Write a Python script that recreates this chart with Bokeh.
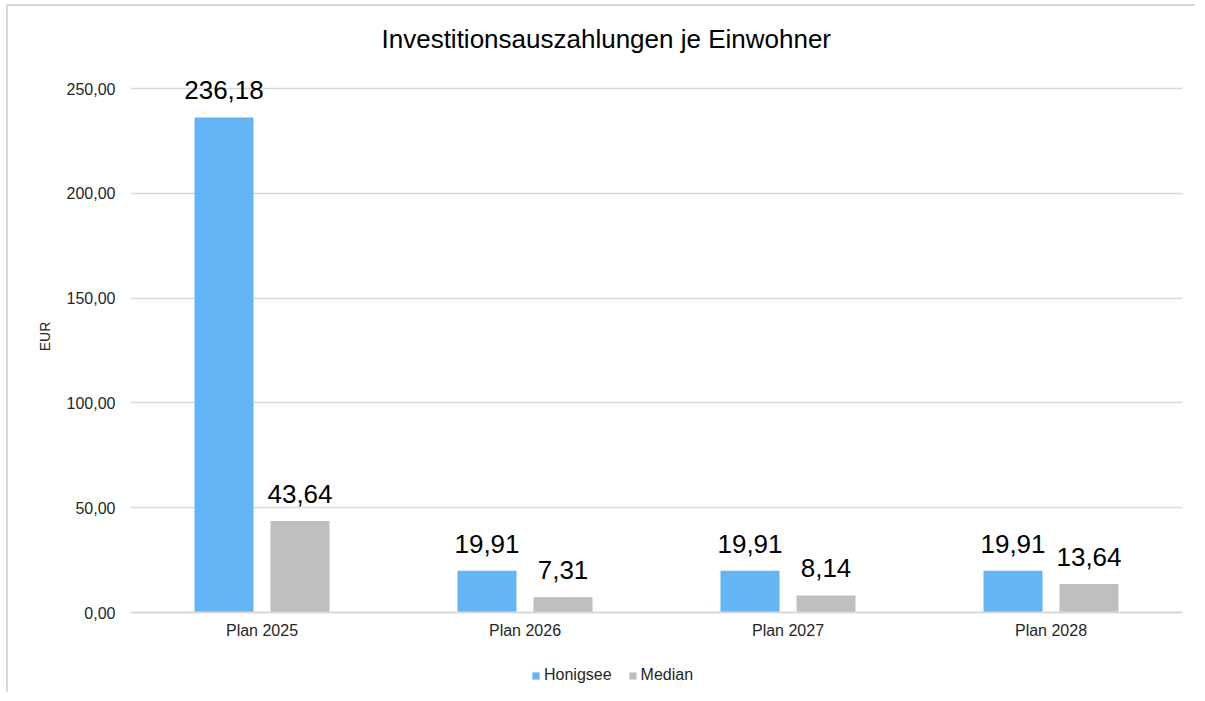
from bokeh.plotting import figure
from bokeh.layouts import column
from bokeh.models import ColumnDataSource, CustomJSTickFormatter, Legend, LegendItem, Title, Range1d
from bokeh.transform import dodge
from bokeh.core.properties import value
from bokeh.embed import file_html
from bokeh.resources import INLINE

categories = ["Plan 2025", "Plan 2026", "Plan 2027", "Plan 2028"]
honigsee = [236.18, 19.91, 19.91, 19.91]
median = [43.64, 7.31, 8.14, 13.64]
series_names = ["Honigsee", "Median"]
colors = ["#63B5F6", "#BFBFBF"]
y_ticks = [0, 50, 100, 150, 200, 250]

FONT = "Liberation Sans"
BORDER = "2px solid #d9d9d9"

def fmt(v):
    return f"{v:.2f}".replace(".", ",")

src = ColumnDataSource(dict(
    cat=categories,
    h=honigsee,
    m=median,
    hl=[fmt(v) for v in honigsee],
    ml=[fmt(v) for v in median],
))

# frame extends a bit above the 250 gridline so the top data label is not clipped
p = figure(x_range=categories, y_range=Range1d(0, 263.36), width=1189, height=646,
           output_backend="svg", toolbar_location=None,
           min_border_left=122, min_border_right=15, min_border_top=54, min_border_bottom=40)
p.styles = {"margin-left": "6px", "margin-top": "4px",
            "border-left": BORDER, "border-top": BORDER}
p.outline_line_color = None
p.background_fill_color = "white"
p.border_fill_color = "white"

p.title = Title(text="Investitionsauszahlungen je Einwohner", align="left",
                text_font=FONT, text_font_size="26px", text_font_style="normal",
                text_color="#000000", offset=251, standoff=13)

off = 0.1445
bw = 0.2243
r1 = p.vbar(x=dodge("cat", -off, range=p.x_range), top="h", width=bw, source=src,
            fill_color=colors[0], line_color=None)
r2 = p.vbar(x=dodge("cat", off, range=p.x_range), top="m", width=bw, source=src,
            fill_color=colors[1], line_color=None)

p.text(x=dodge("cat", -off, range=p.x_range), y="h", text="hl", source=src,
       text_align="center", text_baseline="alphabetic", y_offset=-27,
       text_font=value(FONT), text_font_size="26px", text_color="#000000")
p.text(x=dodge("cat", off, range=p.x_range), y="m", text="ml", source=src,
       text_align="center", text_baseline="alphabetic", y_offset=-27,
       text_font=value(FONT), text_font_size="26px", text_color="#000000")

# axes
p.yaxis.ticker = y_ticks
p.yaxis.formatter = CustomJSTickFormatter(code="return tick.toFixed(2).replace('.', ',');")
p.yaxis.axis_line_color = None
p.yaxis.major_tick_line_color = None
p.yaxis.minor_tick_line_color = None
p.yaxis.major_label_standoff = 9
p.yaxis.major_label_text_font = FONT
p.yaxis.major_label_text_font_size = "16px"
p.yaxis.major_label_text_color = "#262626"
p.yaxis.axis_label = "EUR"
p.yaxis.axis_label_text_font = FONT
p.yaxis.axis_label_text_font_size = "14px"
p.yaxis.axis_label_text_font_style = "normal"
p.yaxis.axis_label_text_color = "#262626"
p.yaxis.axis_label_standoff = 11

p.xaxis.axis_line_color = "#d9d9d9"
p.xaxis.axis_line_width = 2
p.xaxis.major_tick_line_color = None
p.xaxis.minor_tick_line_color = None
p.xaxis.major_label_standoff = 3
p.xaxis.major_label_text_font = FONT
p.xaxis.major_label_text_font_size = "16px"
p.xaxis.major_label_text_color = "#262626"

p.xgrid.grid_line_color = None
p.ygrid.grid_line_color = "#d9d9d9"
p.ygrid.grid_line_width = 1.5

# legend strip below the chart
lp = figure(width=1189, height=42, x_range=Range1d(0, 1), y_range=Range1d(0, 1),
            output_backend="svg", toolbar_location=None,
            x_axis_type=None, y_axis_type=None,
            min_border_left=122, min_border_right=15, min_border_top=0, min_border_bottom=0)
lp.styles = {"margin-left": "6px", "border-left": BORDER}
lp.grid.visible = False
lp.outline_line_color = None
# zero-size legend proxies (only their colours are used by the legend)
lr1 = lp.vbar(x=[0.5], top=[0], bottom=[0], width=0, fill_color=colors[0], line_color=None)
lr2 = lp.vbar(x=[0.5], top=[0], bottom=[0], width=0, fill_color=colors[1], line_color=None)

legend = Legend(items=[LegendItem(label=series_names[0], renderers=[lr1]),
                       LegendItem(label=series_names[1], renderers=[lr2])],
                orientation="horizontal", location=(401, 8),
                glyph_width=9, glyph_height=9, label_standoff=4, spacing=16,
                padding=0, margin=0, border_line_color=None, background_fill_alpha=0,
                label_text_font=FONT, label_text_font_size="16px", label_text_color="#262626")
lp.add_layout(legend)

layout = column(p, lp, spacing=0)
open("out.html", "w").write(file_html(layout, INLINE))
